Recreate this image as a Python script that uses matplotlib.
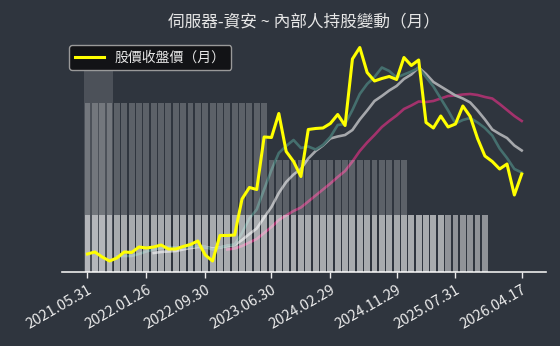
import numpy as np
import matplotlib.pyplot as plt

plt.rcParams['font.family'] = ['Noto Sans CJK TC', 'DejaVu Sans']

nan = np.nan

# x tick positions (month index) and labels
tick_idx = [0, 8, 16, 25, 33, 42, 50, 59]
tick_labels = ['2021.05.31', '2022.01.26', '2022.09.30', '2023.06.30',
               '2024.02.29', '2024.11.29', '2025.07.31', '2026.04.17']

# monthly close price
close = [36, 40, 30, 22, 28, 40, 39, 50, 48, 50,
         54, 46, 46, 51, 55, 62, 34, 22, 73, 73,
         74, 146, 169, 165, 270, 269, 317, 241, 221, 191,
         285, 287, 288, 297, 315, 293, 426, 449, 399, 382,
         387, 391, 385, 429, 413, 424, 299, 288, 312, 290,
         296, 332, 311, 267, 232, 221, 206, 216, 154, 196]

# moving averages
ma_short = [nan, nan, nan, nan, 31, 32, 32, 36, 41, 45,
            48, 50, 49, 49, 50, 52, 50, 45, 49, 53,
            55, 78, 107, 125, 165, 204, 238, 252, 264, 248,
            251, 245, 254, 270, 294, 296, 324, 356, 376, 390,
            409, 402, 389, 395, 401, 408, 390, 371, 347, 323,
            297, 304, 308, 299, 288, 273, 247, 228, 206, 199]
ma_mid = [nan, nan, nan, nan, nan, nan, nan, nan, nan, 38,
          40, 41, 42, 45, 48, 50, 50, 47, 49, 52,
          54, 64, 76, 87, 109, 130, 158, 180, 195, 206,
          227, 242, 253, 267, 271, 274, 284, 305, 323, 342,
          352, 363, 372, 386, 395, 409, 396, 380, 371, 362,
          353, 347, 339, 323, 305, 285, 276, 268, 253, 243]
ma_long = [nan] * 19 + [45, 47, 52, 59, 66, 78, 90, 104, 113, 122, 129,
                        141, 153, 165, 177, 190, 202, 221, 242, 259, 274,
                        290, 302, 313, 326, 333, 341, 340, 342, 347, 352,
                        353, 355, 356, 354, 350, 347, 336, 324, 312, 302]

# insider holding (%) per month
major_hold = [34.5] * 4 + [0] * 51
director_hold = [28.9] * 25 + [19.1] * 19 + [9.7] * 5 + [0] * 6
insider_hold = [9.7] * 55

bg = '#2f353e'
fig = plt.figure(figsize=(5.6, 3.46), dpi=100, facecolor=bg)
ax = fig.add_axes([0.1107, 0.2139, 0.8643, 0.6763])
ax.set_facecolor(bg)

x = np.arange(len(close))
ax.plot(x, ma_long, color='#a3326c', lw=1.9)
ax.plot(x, ma_mid, color='#a6a8ac', lw=1.9)
ax.plot(x, ma_short, color='#456f6e', lw=1.9)

# holding bars
ax2 = ax.twinx()
xb = np.arange(len(insider_hold))
ax2.bar(xb, major_hold, width=1.0, color='white', alpha=0.14, linewidth=0)
ax2.bar(xb, director_hold, width=0.8, color='white', alpha=0.22, linewidth=0)
ax2.bar(xb, insider_hold, width=0.8, color='white', alpha=0.47, linewidth=0)
ax2.set_ylim(0, 40)

# close price on top
ax3 = ax.twinx()
ax3.plot(x, close, color='#ffff00', lw=2.2, label='股價收盤價（月）')
ax3.set_ylim(0, 468)
ax.set_ylim(0, 468)

for a in (ax, ax2, ax3):
    a.set_xlim(-3.46, 62.3)
    a.set_yticks([])
    for s in ('top', 'left', 'right'):
        a.spines[s].set_visible(False)
ax2.spines['bottom'].set_visible(False)
ax3.spines['bottom'].set_visible(False)
ax.spines['bottom'].set_color('#ececec')
ax.spines['bottom'].set_linewidth(1.2)

ax.set_xticks(tick_idx)
ax.set_xticklabels(tick_labels, rotation=30, ha='right', rotation_mode='anchor')
ax.tick_params(axis='x', colors='#ececec', length=4, width=1, labelsize=10.5, pad=4)

leg = ax3.legend(loc='upper left', bbox_to_anchor=(0.0145, 0.97), borderaxespad=0,
                 fontsize=10, handlelength=2.1, handletextpad=0.8,
                 facecolor='#111214', edgecolor='#a0a0a0', framealpha=0.95)
for t in leg.get_texts():
    t.set_color('#e6e6e6')

fig.text(0.543, 0.936, '伺服器-資安 ~ 內部人持股變動（月）', ha='center', va='center',
         fontsize=12, color='#e6e6e6')

fig.savefig('out.png', dpi=100, facecolor=bg)
